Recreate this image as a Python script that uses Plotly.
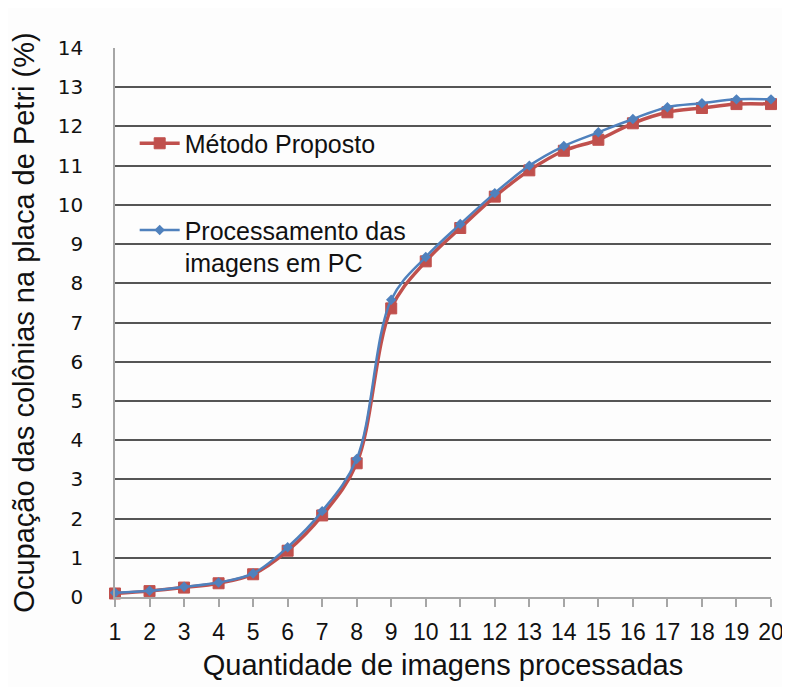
import plotly.graph_objects as go

x_imagens = list(range(1, 21))
metodo_proposto = [0.09, 0.15, 0.24, 0.35, 0.58, 1.18, 2.08, 3.41, 7.36, 8.56,
                   9.41, 10.21, 10.88, 11.38, 11.66, 12.08, 12.36, 12.47, 12.57, 12.57]
processamento_pc = [0.11, 0.16, 0.26, 0.37, 0.60, 1.27, 2.19, 3.52, 7.58, 8.67,
                    9.51, 10.30, 11.00, 11.50, 11.85, 12.19, 12.49, 12.59, 12.69, 12.69]
y_ticks = list(range(0, 15))

red = "#C0504D"
blue = "#4F81BD"

fig = go.Figure()
fig.add_trace(go.Scatter(
    x=x_imagens, y=metodo_proposto, name="Método Proposto",
    mode="lines+markers", line=dict(color=red, width=3.5, shape="spline", smoothing=1),
    marker=dict(symbol="square", size=11, color=red, line=dict(color=red, width=1)),
    cliponaxis=False, legend="legend",
))
fig.add_trace(go.Scatter(
    x=x_imagens, y=processamento_pc, name="Processamento das<br>imagens em PC",
    mode="lines+markers", line=dict(color=blue, width=2.5, shape="spline", smoothing=1),
    marker=dict(symbol="diamond", size=8, color=blue),
    cliponaxis=False, legend="legend2",
))

legend_font = dict(family="Liberation Sans, Arial, sans-serif", size=25, color="#111111")
fig.update_layout(
    width=782, height=679,
    margin=dict(l=107, r=19, t=40, b=90),
    paper_bgcolor="#fdfdfd", plot_bgcolor="#fdfdfd",
    showlegend=True,
    legend=dict(x=0.03, y=0.826, xanchor="left", yanchor="middle", font=legend_font,
                bgcolor="rgba(0,0,0,0)", itemwidth=40),
    legend2=dict(x=0.03, y=0.71, xanchor="left", yanchor="top", font=legend_font,
                 bgcolor="rgba(0,0,0,0)", valign="top", itemwidth=40),
    xaxis=dict(
        range=[1, 20], tickmode="array", tickvals=x_imagens,
        ticktext=[str(v) for v in x_imagens], automargin=False,
        showgrid=False, zeroline=False,
        showline=True, linecolor="#a6a6a6", linewidth=1.5,
        ticks="outside", ticklen=8, tickcolor="#a6a6a6", tickwidth=1.5,
        ticklabelstandoff=6,
        tickfont=dict(family="Liberation Sans, Arial, sans-serif", size=23, color="#111111"),
        title=dict(text="Quantidade de imagens processadas", standoff=10,
                   font=dict(family="Liberation Sans, Arial, sans-serif", size=29, color="#111111")),
    ),
    yaxis=dict(
        range=[0, 14], tickmode="array", tickvals=y_ticks, automargin=False,
        showgrid=True, gridcolor="#555555", gridwidth=1.5, zeroline=False,
        showline=True, linecolor="#a6a6a6", linewidth=1.5,
        ticks="", ticklabelstandoff=26,
        tickfont=dict(family="DejaVu Sans, Verdana, sans-serif", size=20, color="#111111"),
        title=dict(text="Ocupação das colônias na placa de Petri (%)", standoff=16,
                   font=dict(family="Liberation Sans, Arial, sans-serif", size=29, color="#111111")),
    ),
)

fig.write_html("out.html")
